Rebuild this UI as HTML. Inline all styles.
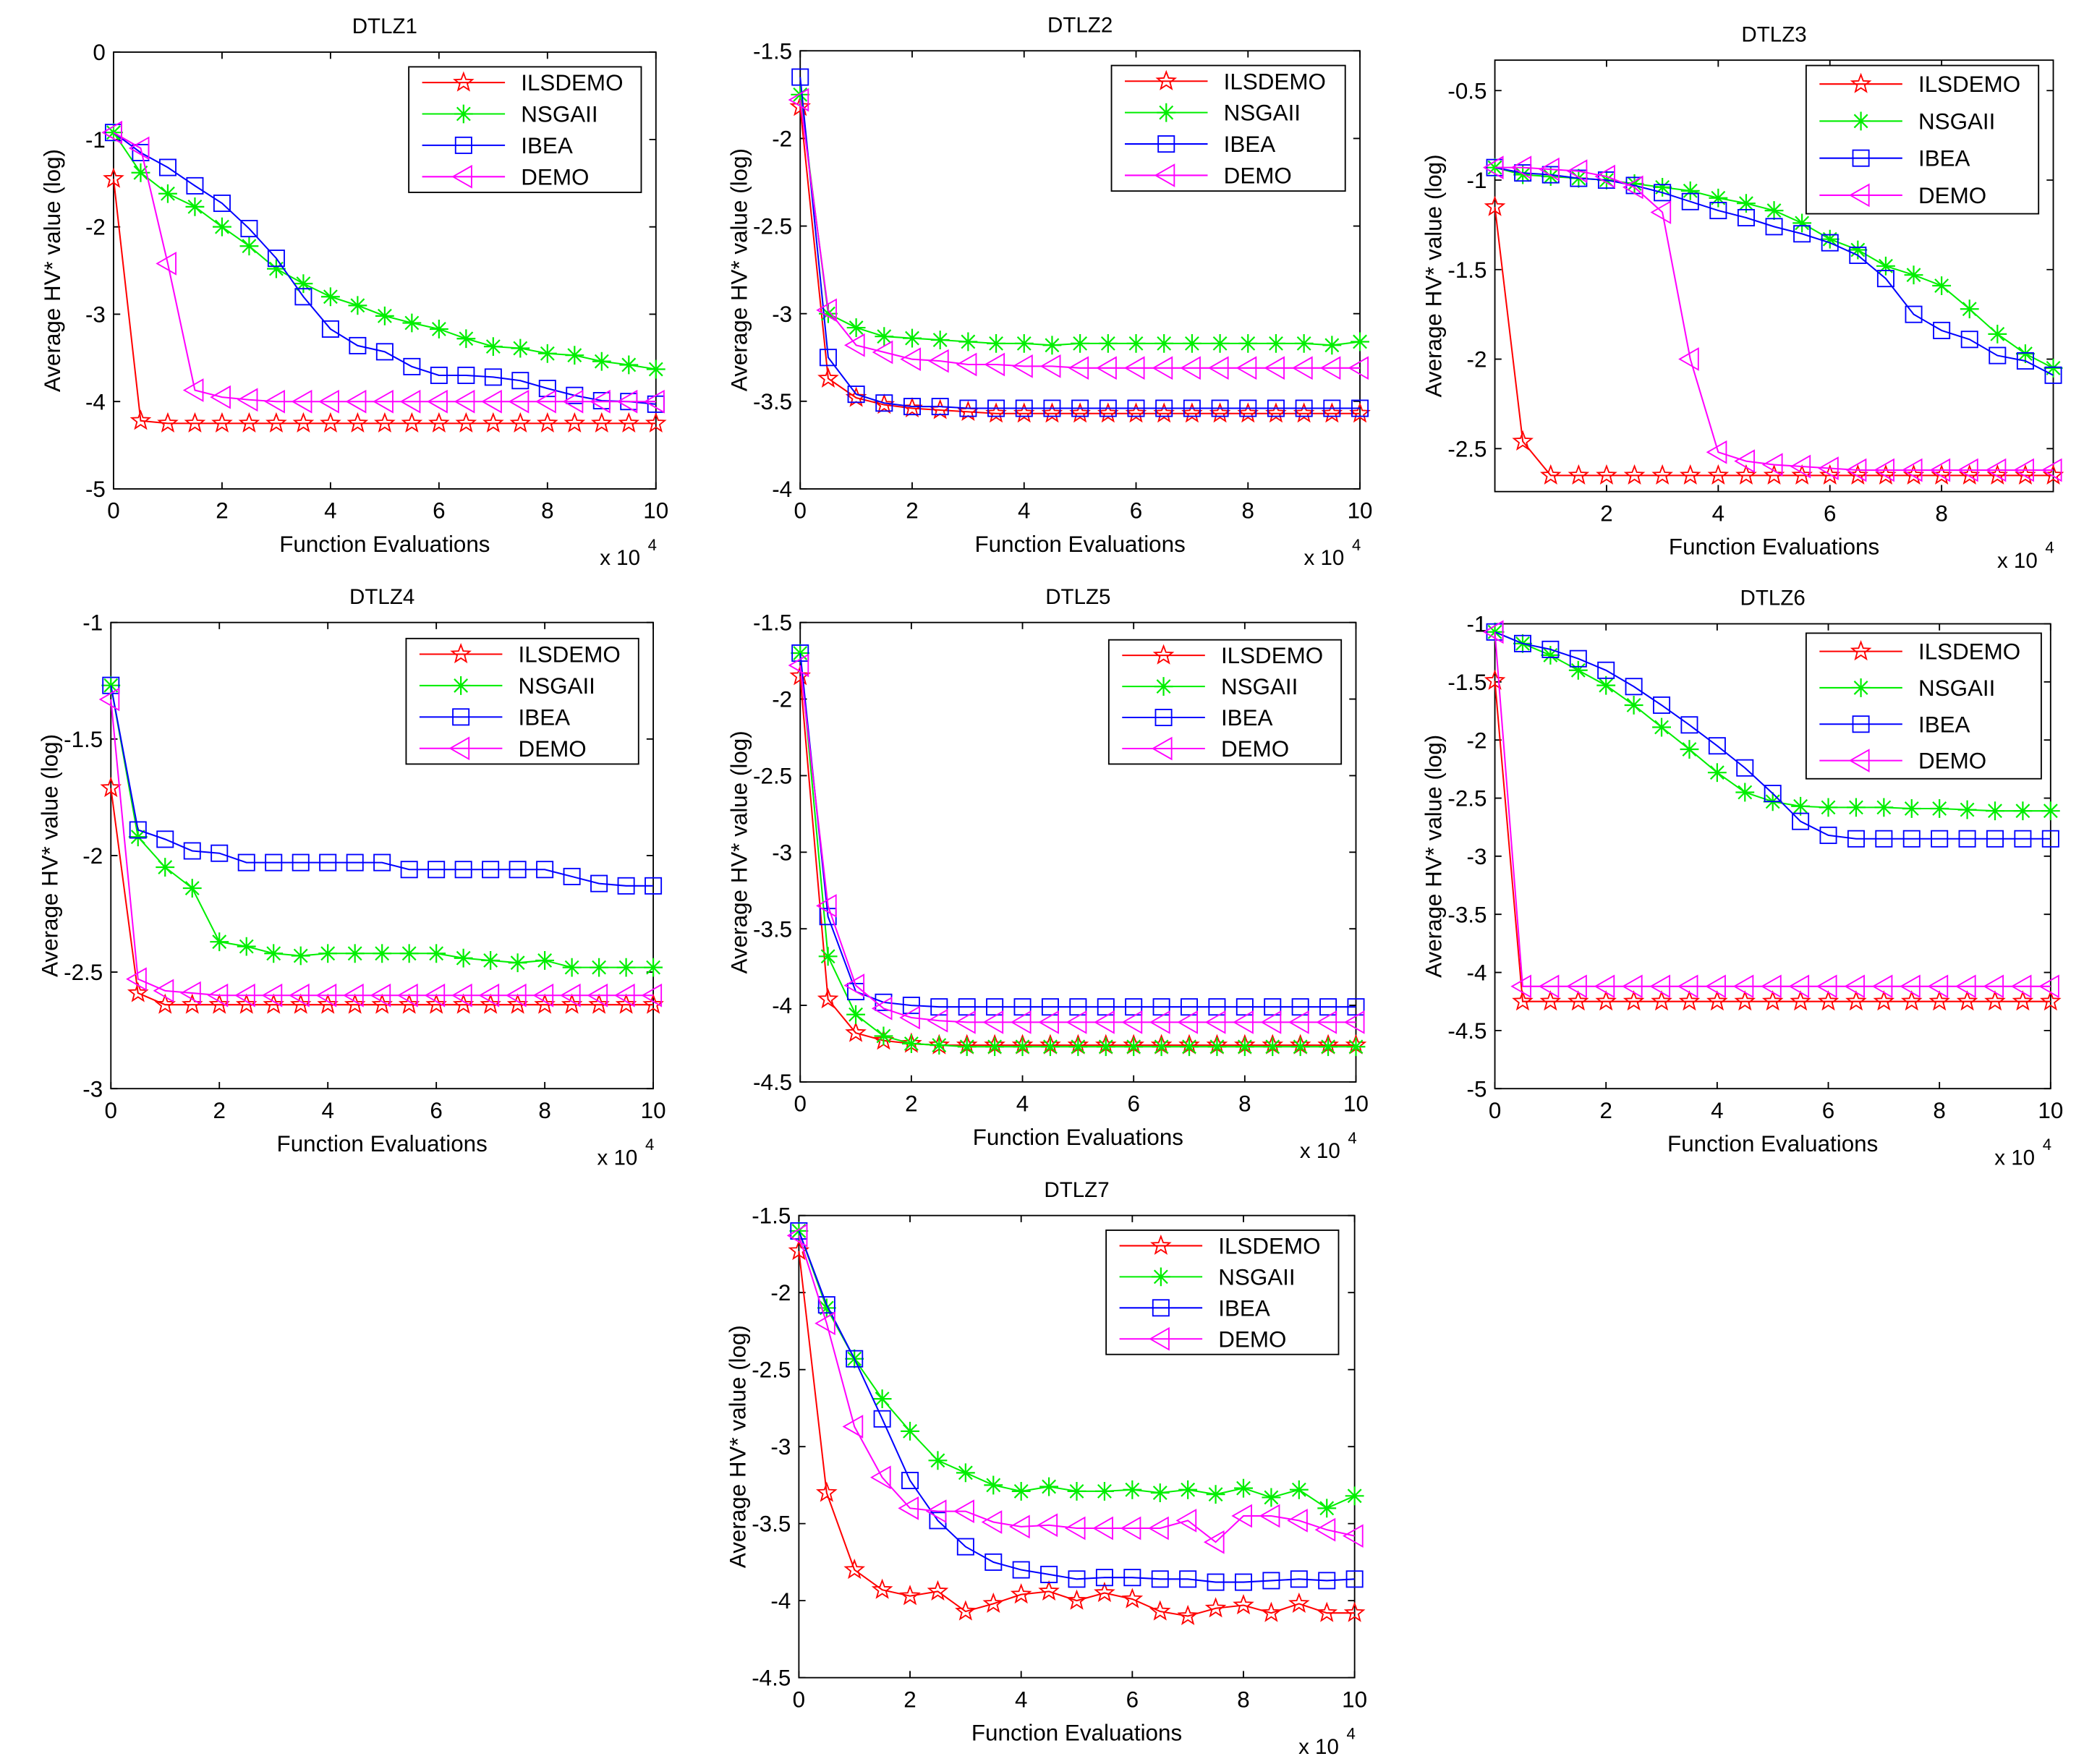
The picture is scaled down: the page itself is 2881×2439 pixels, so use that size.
<!DOCTYPE html>
<html><head><meta charset="utf-8"><style>
html,body{margin:0;padding:0;background:#fff}
svg{display:block}
text{font-family:"Liberation Sans",Arial,sans-serif;fill:#000}
</style></head><body>
<svg id="fig" width="2881" height="2439" viewBox="0 0 1560 1320.6" xmlns="http://www.w3.org/2000/svg"></svg>
<script>
const xs = [0,0.5,1,1.5,2,2.5,3,3.5,4,4.5,5,5.5,6,6.5,7,7.5,8,8.5,9,9.5,10];
const seriesNames = ["ILSDEMO","NSGAII","IBEA","DEMO"];
const seriesColors = ["#ff0000","#00ee00","#0000ff","#ff00ff"];
const d1_ils = [-1.45,-4.22,-4.25,-4.25,-4.25,-4.25,-4.25,-4.25,-4.25,-4.25,-4.25,-4.25,-4.25,-4.25,-4.25,-4.25,-4.25,-4.25,-4.25,-4.25,-4.25];
const d1_nsga = [-0.92,-1.38,-1.62,-1.77,-2.0,-2.22,-2.48,-2.65,-2.8,-2.9,-3.02,-3.1,-3.17,-3.28,-3.37,-3.39,-3.45,-3.47,-3.54,-3.58,-3.63];
const d1_ibea = [-0.92,-1.15,-1.32,-1.53,-1.73,-2.02,-2.36,-2.8,-3.17,-3.36,-3.43,-3.6,-3.7,-3.7,-3.72,-3.76,-3.85,-3.93,-3.99,-4.0,-4.03];
const d1_demo = [-0.92,-1.1,-2.42,-3.87,-3.95,-3.98,-4.0,-4.0,-4.0,-4.0,-4.0,-4.0,-4.0,-4.0,-4.0,-4.0,-4.0,-4.0,-4.0,-4.0,-4.0];
const d2_ils = [-1.82,-3.37,-3.48,-3.52,-3.54,-3.55,-3.56,-3.57,-3.57,-3.57,-3.57,-3.57,-3.57,-3.57,-3.57,-3.57,-3.57,-3.57,-3.57,-3.57,-3.57];
const d2_nsga = [-1.75,-3.0,-3.08,-3.13,-3.14,-3.15,-3.16,-3.17,-3.17,-3.18,-3.17,-3.17,-3.17,-3.17,-3.17,-3.17,-3.17,-3.17,-3.17,-3.18,-3.16];
const d2_ibea = [-1.65,-3.25,-3.46,-3.51,-3.53,-3.53,-3.54,-3.54,-3.54,-3.54,-3.54,-3.54,-3.54,-3.54,-3.54,-3.54,-3.54,-3.54,-3.54,-3.54,-3.54];
const d2_demo = [-1.78,-2.98,-3.18,-3.22,-3.26,-3.27,-3.29,-3.29,-3.3,-3.3,-3.31,-3.31,-3.31,-3.31,-3.31,-3.31,-3.31,-3.31,-3.31,-3.31,-3.31];
const d3_ils = [-1.15,-2.46,-2.65,-2.65,-2.65,-2.65,-2.65,-2.65,-2.65,-2.65,-2.65,-2.65,-2.65,-2.65,-2.65,-2.65,-2.65,-2.65,-2.65,-2.65,-2.65];
const d3_nsga = [-0.93,-0.97,-0.98,-0.99,-1.0,-1.02,-1.04,-1.06,-1.1,-1.13,-1.17,-1.24,-1.33,-1.39,-1.48,-1.53,-1.59,-1.72,-1.86,-1.97,-2.05];
const d3_ibea = [-0.93,-0.96,-0.97,-0.99,-1.0,-1.03,-1.07,-1.12,-1.17,-1.21,-1.26,-1.3,-1.35,-1.42,-1.55,-1.75,-1.84,-1.89,-1.98,-2.01,-2.09];
const d3_demo = [-0.93,-0.93,-0.94,-0.95,-0.98,-1.04,-1.18,-2.0,-2.52,-2.57,-2.59,-2.6,-2.61,-2.62,-2.62,-2.62,-2.62,-2.62,-2.62,-2.62,-2.62];
const d4_ils = [-1.71,-2.59,-2.64,-2.64,-2.64,-2.64,-2.64,-2.64,-2.64,-2.64,-2.64,-2.64,-2.64,-2.64,-2.64,-2.64,-2.64,-2.64,-2.64,-2.64,-2.64];
const d4_nsga = [-1.27,-1.92,-2.05,-2.14,-2.37,-2.39,-2.42,-2.43,-2.42,-2.42,-2.42,-2.42,-2.42,-2.44,-2.45,-2.46,-2.45,-2.48,-2.48,-2.48,-2.48];
const d4_ibea = [-1.27,-1.89,-1.93,-1.98,-1.99,-2.03,-2.03,-2.03,-2.03,-2.03,-2.03,-2.06,-2.06,-2.06,-2.06,-2.06,-2.06,-2.09,-2.12,-2.13,-2.13];
const d4_demo = [-1.33,-2.53,-2.58,-2.59,-2.6,-2.6,-2.6,-2.6,-2.6,-2.6,-2.6,-2.6,-2.6,-2.6,-2.6,-2.6,-2.6,-2.6,-2.6,-2.6,-2.6];
const d5_ils = [-1.85,-3.96,-4.18,-4.23,-4.25,-4.26,-4.26,-4.26,-4.26,-4.26,-4.26,-4.26,-4.26,-4.26,-4.26,-4.26,-4.26,-4.26,-4.26,-4.26,-4.26];
const d5_nsga = [-1.7,-3.68,-4.06,-4.2,-4.25,-4.26,-4.27,-4.27,-4.27,-4.27,-4.27,-4.27,-4.27,-4.27,-4.27,-4.27,-4.27,-4.27,-4.27,-4.27,-4.27];
const d5_ibea = [-1.7,-3.42,-3.91,-3.98,-4.0,-4.01,-4.01,-4.01,-4.01,-4.01,-4.01,-4.01,-4.01,-4.01,-4.01,-4.01,-4.01,-4.01,-4.01,-4.01,-4.01];
const d5_demo = [-1.78,-3.35,-3.87,-4.02,-4.08,-4.1,-4.11,-4.11,-4.11,-4.11,-4.11,-4.11,-4.11,-4.11,-4.11,-4.11,-4.11,-4.11,-4.11,-4.11,-4.11];
const d6_ils = [-1.49,-4.25,-4.25,-4.25,-4.25,-4.25,-4.25,-4.25,-4.25,-4.25,-4.25,-4.25,-4.25,-4.25,-4.25,-4.25,-4.25,-4.25,-4.25,-4.25,-4.25];
const d6_nsga = [-1.07,-1.17,-1.27,-1.4,-1.53,-1.7,-1.89,-2.08,-2.28,-2.45,-2.53,-2.57,-2.58,-2.58,-2.58,-2.59,-2.59,-2.6,-2.61,-2.61,-2.61];
const d6_ibea = [-1.07,-1.17,-1.22,-1.3,-1.4,-1.54,-1.7,-1.87,-2.05,-2.24,-2.46,-2.7,-2.82,-2.85,-2.85,-2.85,-2.85,-2.85,-2.85,-2.85,-2.85];
const d6_demo = [-1.07,-4.12,-4.12,-4.12,-4.12,-4.12,-4.12,-4.12,-4.12,-4.12,-4.12,-4.12,-4.12,-4.12,-4.12,-4.12,-4.12,-4.12,-4.12,-4.12,-4.12];
const d7_ils = [-1.73,-3.3,-3.8,-3.93,-3.97,-3.94,-4.07,-4.02,-3.96,-3.94,-4.0,-3.95,-3.99,-4.07,-4.1,-4.05,-4.03,-4.08,-4.02,-4.08,-4.08];
const d7_nsga = [-1.6,-2.1,-2.43,-2.69,-2.9,-3.09,-3.17,-3.25,-3.29,-3.26,-3.29,-3.29,-3.28,-3.3,-3.28,-3.31,-3.27,-3.33,-3.28,-3.4,-3.32];
const d7_ibea = [-1.6,-2.08,-2.43,-2.82,-3.22,-3.48,-3.65,-3.75,-3.8,-3.83,-3.86,-3.85,-3.85,-3.86,-3.86,-3.88,-3.88,-3.87,-3.86,-3.87,-3.86];
const d7_demo = [-1.63,-2.2,-2.87,-3.2,-3.4,-3.42,-3.42,-3.49,-3.52,-3.51,-3.53,-3.53,-3.53,-3.53,-3.48,-3.62,-3.45,-3.45,-3.48,-3.54,-3.58];
const yTicks1 = ["0","-1","-2","-3","-4","-5"];
const yTicks2 = ["-1.5","-2","-2.5","-3","-3.5","-4"];
const yTicks3 = ["-0.5","-1","-1.5","-2","-2.5"];
const yTicks4 = ["-1","-1.5","-2","-2.5","-3"];
const yTicks5 = ["-1.5","-2","-2.5","-3","-3.5","-4","-4.5"];
const yTicks6 = ["-1","-1.5","-2","-2.5","-3","-3.5","-4","-4.5","-5"];
const xTicksAll = ["0","2","4","6","8","10"];
const xTicks3 = ["2","4","6","8"];

const panels = [
 {name:"DTLZ1",box:[85,39,491,366],y:[0,-5],yt:yTicks1,xt:xTicksAll,data:[d1_ils,d1_nsga,d1_ibea,d1_demo],leg:[306,50,480,144]},
 {name:"DTLZ2",box:[599,38,1018,366],y:[-1.5,-4],yt:yTicks2,xt:xTicksAll,data:[d2_ils,d2_nsga,d2_ibea,d2_demo],leg:[832,49,1007,143]},
 {name:"DTLZ3",box:[1119,45,1537,368],y:[-0.33,-2.74],yt:yTicks3,xt:xTicks3,data:[d3_ils,d3_nsga,d3_ibea,d3_demo],leg:[1352,49,1526,160]},
 {name:"DTLZ4",box:[83,466,489,815],y:[-1,-3],yt:yTicks4,xt:xTicksAll,data:[d4_ils,d4_nsga,d4_ibea,d4_demo],leg:[304,478,478,572]},
 {name:"DTLZ5",box:[599,466,1015,810],y:[-1.5,-4.5],yt:yTicks5,xt:xTicksAll,data:[d5_ils,d5_nsga,d5_ibea,d5_demo],leg:[830,479,1004,572]},
 {name:"DTLZ6",box:[1119,467,1535,815],y:[-1,-5],yt:yTicks6,xt:xTicksAll,data:[d6_ils,d6_nsga,d6_ibea,d6_demo],leg:[1352,474,1528,583]},
 {name:"DTLZ7",box:[598,910,1014,1256],y:[-1.5,-4.5],yt:yTicks5,xt:xTicksAll,data:[d7_ils,d7_nsga,d7_ibea,d7_demo],leg:[828,921,1002,1014]}
];
const NS="http://www.w3.org/2000/svg";
const svg=document.getElementById('fig');
function mk(tag,attrs,parent,txt){const e=document.createElementNS(NS,tag);for(const k in attrs)e.setAttribute(k,attrs[k]);if(txt!==undefined)e.textContent=txt;parent.appendChild(e);return e;}
function marker(g,k,x,y,c){
  const r=7;let e;
  if(k===0){let p=[];for(let i=0;i<10;i++){const a=-Math.PI/2+i*Math.PI/5;const rr=i%2?r*0.42:r;p.push((x+rr*Math.cos(a)).toFixed(2)+","+(y+rr*Math.sin(a)).toFixed(2));}
    e=mk('polygon',{points:p.join(' '),fill:'none',stroke:c,'stroke-width':1},g);}
  else if(k===1){let d='';for(let i=0;i<4;i++){const a=i*Math.PI/4;d+=`M${x-r*Math.cos(a)},${y-r*Math.sin(a)}L${x+r*Math.cos(a)},${y+r*Math.sin(a)}`;}
    e=mk('path',{d:d,stroke:c,'stroke-width':1.2,fill:'none'},g);}
  else if(k===2){e=mk('rect',{x:x-6,y:y-6,width:12,height:12,fill:'none',stroke:c,'stroke-width':1},g);}
  else {e=mk('polygon',{points:`${x-8},${y} ${x+6},${y-8} ${x+6},${y+8}`,fill:'none',stroke:c,'stroke-width':1},g);}
  
  
}
panels.forEach(p=>{
  const [L,T,R,B]=p.box;
  const g=mk('g',{},svg);
  
  
  const sx=v=>L+(v/10)*(R-L);
  const sy=v=>T+(v-p.y[0])/(p.y[1]-p.y[0])*(B-T);
  const t=mk('text',{x:(L+R)/2,y:T-14,'text-anchor':'middle','font-size':16},g,p.name);
  
  mk('rect',{x:L,y:T,width:R-L,height:B-T,fill:'#fff',stroke:'#000','stroke-width':1},g);
  p.xt.forEach(s=>{const v=+s,x=sx(v);
    mk('path',{d:`M${x},${B}V${B-5}M${x},${T}V${T+5}`,stroke:'#000','stroke-width':1},g);
    const e=mk('text',{x:x,y:B+22,'text-anchor':'middle','font-size':17},g,s);
    });
  p.yt.forEach(s=>{const v=+s,y=sy(v);
    mk('path',{d:`M${L},${y}H${L+5}M${R},${y}H${R-5}`,stroke:'#000','stroke-width':1},g);
    const e=mk('text',{x:L-6,y:y+6,'text-anchor':'end','font-size':17},g,s);
    });
  const xl=mk('text',{x:(L+R)/2,y:B+47,'text-anchor':'middle','font-size':17},g,'Function Evaluations');
  
  const ex=mk('text',{x:R-42,y:B+57,'font-size':16},g,'x 10');
  
  mk('text',{x:R-6,y:B+46,'font-size':12},g,'4');
  const yl=mk('text',{x:0,y:0,'text-anchor':'middle','font-size':17,transform:`translate(${L-40},${(T+B)/2}) rotate(-90)`},g,'Average HV* value (log)');
  
  p.data.forEach((arr,k)=>{
    const c=seriesColors[k];
    const pts=arr.map((v,i)=>sx(xs[i]).toFixed(2)+','+sy(v).toFixed(2)).join(' ');
    const pl=mk('polyline',{points:pts,fill:'none',stroke:c,'stroke-width':1.1},g);
    
    
    arr.forEach((v,i)=>marker(g,k,sx(xs[i]),sy(v),c));
  });
  const [a,b,c2,d]=p.leg;
  const lg=mk('g',{},g);
  
  mk('rect',{x:a,y:b,width:c2-a,height:d-b,fill:'#fff',stroke:'#000','stroke-width':1},lg);
  const step=(d-b)/4;
  seriesNames.forEach((n,k)=>{
    const y=b+step*(k+0.5);
    mk('line',{x1:a+10,x2:a+72,y1:y,y2:y,stroke:seriesColors[k],'stroke-width':1.1},lg);
    marker(lg,k,a+41,y,seriesColors[k]);
    const e=mk('text',{x:a+84,y:y+6,'font-size':17},lg,n);
    
  });
});
</script>
</body></html>
